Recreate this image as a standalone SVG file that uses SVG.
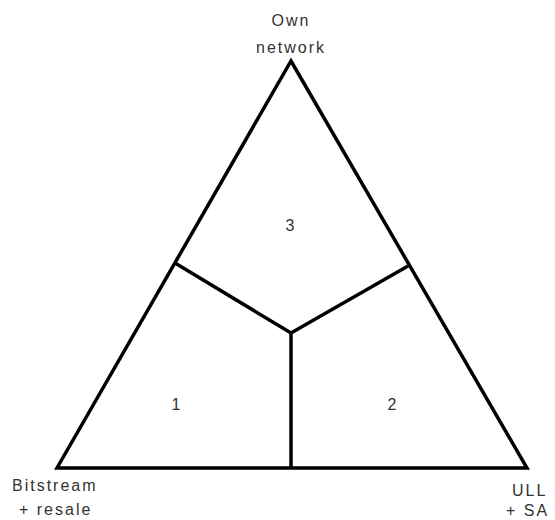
<svg xmlns="http://www.w3.org/2000/svg" width="555" height="520" viewBox="0 0 555 520">
<style>
.ln{fill:none;stroke:#000;stroke-width:3.5;stroke-linejoin:miter}
.t{font-family:"Liberation Sans",Arial,sans-serif;font-size:16px;fill:#333;letter-spacing:2px}
.n{font-family:"Liberation Sans",Arial,sans-serif;font-size:16px;fill:#333;text-anchor:middle}
</style>
<rect width="555" height="520" fill="#fff"/>
<g id="connectors">
<path class="ln" d="M291,61 L527,468 L57,468 Z"/>
<path class="ln" d="M175,263 L291,333 L408,266 M291,333 L291,468"/>
</g>
<g id="own"><text class="t" x="291" y="26" text-anchor="middle">Own</text><text class="t" x="291" y="53" text-anchor="middle">network</text></g>
<g id="bitstream"><text class="t" x="12" y="491">Bitstream</text><text class="t" x="19" y="515">+ resale</text></g>
<g id="ull"><text class="t" x="512" y="496">ULL</text><text class="t" x="506" y="516">+ SA</text></g>
<g id="r3"><text class="n" x="290" y="231">3</text></g>
<g id="r1"><text class="n" x="176" y="410">1</text></g>
<g id="r2"><text class="n" x="392" y="410">2</text></g>
</svg>
